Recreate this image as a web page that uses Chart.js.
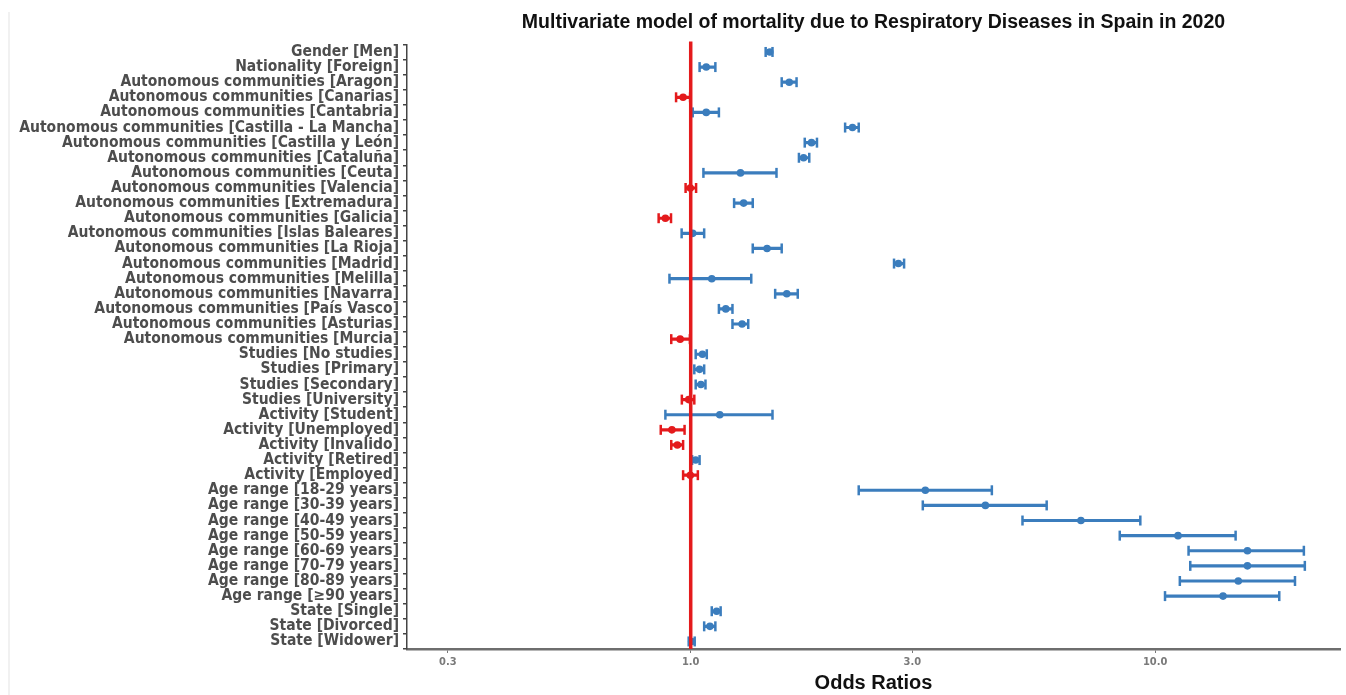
<!DOCTYPE html>
<html>
<head>
<meta charset="utf-8">
<script src="https://cdn.jsdelivr.net/npm/chart.js@4.4.1/dist/chart.umd.min.js"></script>
<style>
  html, body { margin: 0; padding: 0; background: #fff; }
  #wrap { position: relative; width: 1346px; height: 695px; }
  #edge { position: absolute; left: 8px; top: 12px; width: 2px; height: 683px; background: #f1f1f1; }
</style>
</head>
<body>
<div id="wrap"><div id="edge"></div><canvas id="c" width="1346" height="695" style="position:absolute;left:0;top:0"></canvas></div>
<script>
// rows, top to bottom
const labels = [
  "Gender [Men]", "Nationality [Foreign]",
  "Autonomous communities [Aragon]", "Autonomous communities [Canarias]",
  "Autonomous communities [Cantabria]", "Autonomous communities [Castilla - La Mancha]",
  "Autonomous communities [Castilla y León]", "Autonomous communities [Cataluña]",
  "Autonomous communities [Ceuta]", "Autonomous communities [Valencia]",
  "Autonomous communities [Extremadura]", "Autonomous communities [Galicia]",
  "Autonomous communities [Islas Baleares]", "Autonomous communities [La Rioja]",
  "Autonomous communities [Madrid]", "Autonomous communities [Melilla]",
  "Autonomous communities [Navarra]", "Autonomous communities [País Vasco]",
  "Autonomous communities [Asturias]", "Autonomous communities [Murcia]",
  "Studies [No studies]", "Studies [Primary]", "Studies [Secondary]", "Studies [University]",
  "Activity [Student]", "Activity [Unemployed]", "Activity [Invalido]", "Activity [Retired]",
  "Activity [Employed]",
  "Age range [18-29 years]", "Age range [30-39 years]", "Age range [40-49 years]",
  "Age range [50-59 years]", "Age range [60-69 years]", "Age range [70-79 years]",
  "Age range [80-89 years]", "Age range [≥90 years]",
  "State [Single]", "State [Divorced]", "State [Widower]"
];

const oddsRatio = [
  1.48, 1.08, 1.63, 0.963, 1.08, 2.23, 1.82, 1.75, 1.28, 0.998,
  1.30, 0.882, 1.01, 1.46, 2.80, 1.11, 1.61, 1.19, 1.29, 0.949,
  1.06, 1.045, 1.052, 0.99, 1.155, 0.911, 0.936, 1.025, 0.998,
  3.20, 4.31, 6.92, 11.2, 15.8, 15.8, 15.1, 14.0,
  1.137, 1.10, 1.005
];

const ciLow = [
  1.45, 1.045, 1.57, 0.93, 1.01, 2.15, 1.76, 1.71, 1.065, 0.975,
  1.24, 0.853, 0.956, 1.36, 2.74, 0.90, 1.52, 1.15, 1.23, 0.908,
  1.025, 1.018, 1.025, 0.957, 0.882, 0.862, 0.908, 1.007, 0.963,
  2.30, 3.16, 5.18, 8.39, 11.8, 11.9, 11.3, 10.5,
  1.11, 1.069, 0.99
];

const ciHigh = [
  1.50, 1.13, 1.69, 0.997, 1.15, 2.30, 1.87, 1.80, 1.53, 1.027,
  1.36, 0.907, 1.069, 1.57, 2.88, 1.35, 1.70, 1.23, 1.33, 0.996,
  1.083, 1.069, 1.076, 1.018, 1.50, 0.970, 0.963, 1.045, 1.036,
  4.45, 5.84, 9.29, 14.9, 20.9, 21.0, 20.0, 18.5,
  1.16, 1.13, 1.02
];

const xTicks = [0.3, 1, 3, 10];

const BLUE = "#3b7dbd";
const RED = "#e41a1c";
const colors = oddsRatio.map(v => (v < 1 ? RED : BLUE));

// error bar caps, drawn from the x scale
const capsPlugin = {
  id: "caps",
  afterDatasetsDraw(chart) {
    const meta = chart.getDatasetMeta(1);
    const x = chart.scales.x;
    const ctx = chart.ctx;
    ctx.save();
    ctx.lineWidth = 2.5;
    meta.data.forEach((bar, i) => {
      ctx.strokeStyle = colors[i];
      [ciLow[i], ciHigh[i]].forEach(v => {
        const px = x.getPixelForValue(v);
        ctx.beginPath();
        ctx.moveTo(px, bar.y - 5);
        ctx.lineTo(px, bar.y + 5);
        ctx.stroke();
      });
    });
    ctx.restore();
  }
};

// vertical reference line at OR = 1
const refLine = {
  id: "refLine",
  afterDatasetsDraw(chart) {
    const { ctx, chartArea, scales } = chart;
    const px = scales.x.getPixelForValue(1);
    ctx.save();
    ctx.strokeStyle = RED;
    ctx.lineWidth = 3.5;
    ctx.beginPath();
    ctx.moveTo(px, chartArea.top - 3);
    ctx.lineTo(px, chartArea.bottom);
    ctx.stroke();
    ctx.restore();
  }
};

new Chart(document.getElementById("c"), {
  type: "bar",
  data: {
    labels: labels,
    datasets: [
      {
        type: "line",
        data: oddsRatio,
        showLine: false,
        indexAxis: "y",
        pointRadius: 3.8,
        pointBackgroundColor: colors,
        pointBorderWidth: 0,
        order: 0
      },
      {
        data: labels.map((_, i) => [ciLow[i], ciHigh[i]]),
        backgroundColor: colors,
        borderWidth: 0,
        barThickness: 2.5,
        order: 1
      }
    ]
  },
  options: {
    responsive: false,
    animation: false,
    indexAxis: "y",
    layout: { padding: { left: 0, right: 6, top: 0, bottom: 0 } },
    plugins: {
      legend: { display: false },
      tooltip: { enabled: false },
      title: {
        display: true,
        fullSize: false,
        text: "Multivariate model of mortality due to Respiratory Diseases in Spain in 2020",
        color: "#111",
        font: { family: "'Liberation Sans', Arial, sans-serif", size: 19.5, weight: "bold" },
        padding: { top: 11, bottom: 10 }
      }
    },
    scales: {
      x: {
        type: "logarithmic",
        min: 0.245,
        max: 25,
        afterBuildTicks: (scale) => { scale.ticks = xTicks.map(v => ({ value: v })); },
        afterFit: (scale) => { scale.height = 46; },
        border: { color: "#6e6e6e", width: 2.5 },
        grid: { drawOnChartArea: false, tickLength: 4, color: "#777" },
        ticks: {
          color: "#7a7a7a",
          font: { family: "'DejaVu Sans Condensed', 'Liberation Sans', Arial, sans-serif", size: 11, weight: "bold" },
          callback: (v) => Number(v).toFixed(1),
          maxRotation: 0,
          padding: 3
        },
        title: {
          display: true,
          text: "Odds Ratios",
          color: "#111",
          font: { family: "'Liberation Sans', Arial, sans-serif", size: 20, weight: "bold" },
          padding: { top: 0, bottom: 0 }
        }
      },
      y: {
        type: "category",
        afterFit: (scale) => { scale.width = 407; },
        border: { color: "#444", width: 1.5 },
        grid: { drawOnChartArea: false, tickLength: 4, color: "#444", lineWidth: 1.5 },
        ticks: {
          autoSkip: false,
          color: "#4d4d4d",
          padding: 4,
          font: { family: "'DejaVu Sans Condensed', Arial, sans-serif", size: 15.5, weight: "bold" }
        }
      }
    }
  },
  plugins: [capsPlugin, refLine]
});
</script>
</body>
</html>
